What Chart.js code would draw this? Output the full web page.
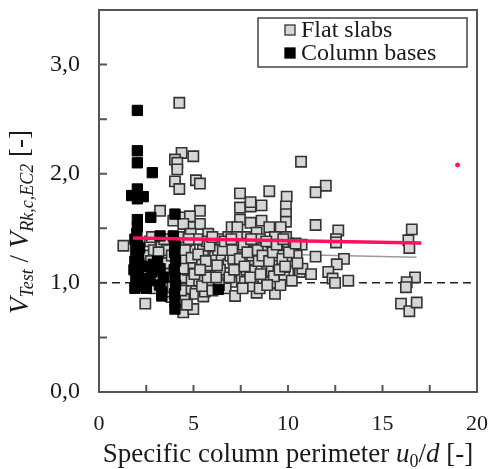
<!DOCTYPE html>
<html>
<head>
<meta charset="utf-8">
<script src="https://cdn.jsdelivr.net/npm/chart.js@4.4.1/dist/chart.umd.min.js"></script>
<style>
  html, body { margin: 0; padding: 0; background: #fff; }
  canvas { display: block; }
</style>
</head>
<body>
<canvas id="myChart" width="493" height="469"></canvas>
<script>
// data: [u0/d, VTest/VRk,c,EC2]
const flatSlabs = [
  [4.25,2.65],[4.37,2.19],[4.99,2.16],[4.02,2.13],[4.14,2.10],[4.14,2.04],[5.13,1.94],[5.34,1.91],
  [4.02,1.93],[4.25,1.86],[7.46,1.82],[9.01,1.84],[9.93,1.79],[9.89,1.70],[9.89,1.63],[9.89,1.56],
  [7.46,1.69],[8.02,1.70],[8.02,1.74],[8.6,1.71],[7.46,1.58],[8.02,1.55],[8.6,1.57],[5.34,1.66],
  [5.34,1.54],[5.78,1.45],[7.02,1.51],[7.32,1.51],[9.01,1.51],[9.61,1.51],[8.34,1.46],[3.23,1.66],
  [4.51,1.60],[4.81,1.61],[3.93,1.57],[4.81,1.51],[4.46,1.54],[10.69,2.11],[12.0,1.89],[11.46,1.83],
  [11.46,1.53],[12.66,1.48],[12.54,1.40],[16.55,1.49],
  [1.29,1.34],[2.45,0.81],[2.6,1.25],[2.7,1.38],[2.9,1.30],[3.0,1.20],[3.1,1.05],[3.3,1.35],
  [3.4,1.22],[3.5,1.10],[3.5,0.98],[3.6,1.30],[3.7,1.18],[3.76,0.88],[3.8,1.05],[3.0,0.95],[2.8,1.42],
  [3.84,0.87],[4.29,0.87],[4.46,0.73],[4.99,0.76],[4.5,0.85],[4.6,0.95],[4.4,1.05],[4.7,1.12],
  [4.5,1.22],[4.8,1.30],[4.6,1.38],[4.9,1.02],[5.0,1.18],[4.3,1.30],[4.2,1.42],[5.1,0.90],[4.85,1.45],
  [4.35,0.93],[5.52,0.875],[5.61,1.11],[5.43,1.20],[5.96,1.29],[6.14,1.24],[6.05,1.05],[5.5,1.30],
  [5.7,1.38],[5.3,1.02],[5.8,0.97],[5.9,1.16],[5.2,1.40],[6.14,1.37],[5.6,0.92],
  [6.46,1.40],[6.84,1.42],[6.84,1.32],[6.49,1.23],[6.84,1.17],[6.76,1.09],[6.3,1.30],[6.6,1.00],
  [6.95,1.25],[6.4,1.12],[7.02,1.01],[6.7,0.95],[7.2,0.88],[7.37,1.17],[7.55,1.27],[7.2,1.37],
  [7.72,1.42],[7.55,1.05],[7.72,1.01],[7.9,1.20],[7.4,1.33],[7.8,1.12],[7.6,0.95],[7.1,1.22],[7.95,1.36],
  [8.25,1.37],[8.25,1.29],[8.25,1.11],[8.52,1.40],[8.6,1.14],[8.78,1.23],[8.78,1.05],[8.34,1.01],
  [8.34,0.91],[8.96,1.32],[8.1,1.25],[8.45,1.20],[8.7,1.32],[8.9,1.10],[8.15,0.97],[8.5,0.95],
  [9.14,1.37],[9.14,1.11],[9.31,1.42],[9.31,1.00],[9.31,0.90],[9.49,1.17],[9.67,1.32],[9.93,1.29],
  [10.1,1.20],[10.55,1.10],[10.0,1.36],[9.5,1.25],[9.8,1.05],[10.3,1.30],[10.63,1.10],[10.76,1.13],
  [10.72,1.35],[10.46,1.25],[9.6,0.98],[9.9,1.42],[10.2,1.02],
  [2.55,1.08],[2.75,1.20],[2.95,1.12],[3.15,1.28],[3.25,1.02],[3.45,1.40],[3.55,1.18],[3.65,0.92],
  [3.85,1.25],[3.9,0.96],[4.45,1.13],[4.55,1.30],[4.75,1.40],[4.9,1.23],[4.65,0.80],[5.05,1.08],
  [5.25,1.26],[5.45,0.97],[5.65,1.20],[5.75,1.05],[5.85,1.34],[6.0,1.42],[6.25,1.16],[6.35,0.98],
  [6.55,1.30],[6.65,1.38],[6.9,1.05],[7.05,1.30],[7.15,1.12],[7.3,1.42],[7.45,1.22],[7.65,1.35],
  [7.7,1.15],[7.85,1.28],[8.0,1.05],[8.05,1.40],[8.4,1.30],[8.55,1.08],[8.65,1.25],[8.85,1.38],
  [9.0,1.20],[9.2,1.28],[9.25,1.06],[9.4,1.35],[9.55,1.12],[9.7,1.22],[9.85,1.15],[10.05,1.28],
  [10.4,1.36],[10.5,1.18],[7.0,1.40],[6.2,1.05],[5.35,1.12],[8.9,0.98],[9.75,1.40],[6.0,0.93],
  [11.46,1.24],[12.96,1.22],[12.58,1.17],[12.13,1.10],[12.36,1.04],[12.49,1.00],[13.19,1.02],
  [11.22,1.08],[12.54,1.37],
  [16.37,1.39],[16.42,1.32],[16.72,1.05],[16.28,1.006],[16.24,0.96],[15.98,0.81],[16.42,0.74],[16.81,0.82]
];
const columnBases = [
  [2.03,2.58],[2.03,2.21],[2.03,2.10],[2.82,2.01],[2.03,1.86],[1.73,1.80],[2.34,1.79],[2.03,1.77],
  [2.03,1.58],[2.03,1.51],[2.74,1.60],[4.02,1.63],[3.23,1.43],[3.93,1.43],
  [2.0,1.45],[1.9,1.40],[2.05,1.35],[1.95,1.30],[2.1,1.25],[1.9,1.20],[2.0,1.15],[2.1,1.10],
  [1.95,1.05],[2.05,1.00],[2.2,0.97],[1.85,1.12],[2.15,1.32],[1.9,0.95],[2.1,1.18],
  [2.43,1.04],[2.79,1.10],[2.87,1.17],[2.6,1.15],[2.5,0.95],[2.65,1.02],
  [3.23,1.13],[3.32,0.88],[3.32,0.91],[3.1,1.20],[3.4,1.05],[3.2,0.98],
  [4.02,1.36],[4.0,1.28],[4.05,1.20],[3.98,1.12],[4.02,1.05],[4.05,0.98],[4.0,0.90],[4.02,0.83],
  [4.02,0.76],[6.31,0.94]
];
const redTrend = [[1.8,1.41],[17.05,1.365]];
const greyTrend = [[2.0,1.29],[16.8,1.235]];
const unityLine = [[0,1.0],[20,1.0]];
const redDot = [[18.97,2.08]];

const xTicks = [0, 5, 10, 15, 20];
const yTicks = [0, 1, 2, 3];

const serif = "'Liberation Serif', 'Times New Roman', serif";
const pts = arr => arr.map(p => ({x: p[0], y: p[1]}));

// box, inward ticks, legend and axis titles
const framePlugin = {
    id: 'frame',
    afterDraw(chart) {
        const ctx = chart.ctx;
        const a = chart.chartArea;
        const sx = chart.scales.x, sy = chart.scales.y;
        ctx.save();
        ctx.strokeStyle = '#555';
        ctx.lineWidth = 2;
        ctx.strokeRect(a.left, a.top, a.right - a.left, a.bottom - a.top);
        ctx.beginPath();
        sx.ticks.forEach(t => {
            const px = sx.getPixelForValue(t.value);
            ctx.moveTo(px, a.bottom); ctx.lineTo(px, a.bottom - 7);
        });
        sy.ticks.forEach(t => {
            const py = sy.getPixelForValue(t.value);
            ctx.moveTo(a.left, py); ctx.lineTo(a.left + 8, py);
        });
        ctx.stroke();

        // legend
        ctx.lineWidth = 1.5;
        ctx.strokeStyle = '#444';
        ctx.strokeRect(258, 18, 209, 49);
        const items = [chart.data.datasets[2], chart.data.datasets[1]];
        items.forEach((ds, i) => {
            const cy = 30 + i * 23;
            ctx.fillStyle = ds.backgroundColor;
            ctx.fillRect(285, cy - 5, 10, 10);
            ctx.strokeStyle = ds.borderColor;
            ctx.lineWidth = 1.3;
            ctx.strokeRect(285, cy - 5, 10, 10);
            ctx.fillStyle = '#1a1a1a';
            ctx.font = '24px ' + serif;
            ctx.textBaseline = 'middle';
            ctx.fillText(ds.label, 301, cy + 1);
        });

        // axis titles
        ctx.fillStyle = '#1a1a1a';
        ctx.textBaseline = 'alphabetic';
        drawRich(ctx, [
            {t: 'Specific column perimeter ', f: 'normal', s: 27},
            {t: 'u', f: 'italic', s: 27},
            {t: '0', f: 'normal', s: 18, dy: 5},
            {t: '/', f: 'normal', s: 27},
            {t: 'd', f: 'italic', s: 27},
            {t: ' [-]', f: 'normal', s: 27}
        ], (a.left + a.right) / 2, 462, 0);
        drawRich(ctx, [
            {t: 'V', f: 'italic', s: 27},
            {t: 'Test', f: 'italic', s: 18, dy: 5},
            {t: ' / ', f: 'normal', s: 27},
            {t: 'V', f: 'italic', s: 27},
            {t: 'Rk,c,EC2', f: 'italic', s: 18, dy: 5},
            {t: ' [-]', f: 'normal', s: 27}
        ], 28, 222, -Math.PI / 2);
        ctx.restore();
    }
};

function drawRich(ctx, segs, cx, cy, rot) {
    let w = 0;
    segs.forEach(s => { ctx.font = s.f + ' ' + s.s + 'px ' + serif; s.w = ctx.measureText(s.t).width; w += s.w; });
    ctx.save();
    ctx.translate(cx, cy);
    ctx.rotate(rot);
    let x = -w / 2;
    segs.forEach(s => {
        ctx.font = s.f + ' ' + s.s + 'px ' + serif;
        ctx.fillText(s.t, x, s.dy || 0);
        x += s.w;
    });
    ctx.restore();
}

document.addEventListener("DOMContentLoaded", function() {
    const ctx = document.getElementById('myChart').getContext('2d');
    const myChart = new Chart(ctx, {
        type: 'scatter',
        data: {
            datasets: [{
                label: 'trend',
                data: pts(redTrend),
                showLine: true,
                borderColor: '#ff1060',
                borderWidth: 3.5,
                pointRadius: 0,
                order: 0
            }, {
                label: 'Column bases',
                data: pts(columnBases),
                pointStyle: 'rect',
                pointRadius: 7.3,
                backgroundColor: '#000000',
                borderColor: '#000000',
                borderWidth: 1,
                order: 1
            }, {
                label: 'Flat slabs',
                data: pts(flatSlabs),
                pointStyle: 'rect',
                pointRadius: 7.3,
                backgroundColor: '#d6d6d6',
                borderColor: '#333333',
                borderWidth: 1.6,
                order: 2
            }, {
                label: 'mean',
                data: pts(greyTrend),
                showLine: true,
                borderColor: '#9a9a9a',
                borderWidth: 1.5,
                pointRadius: 0,
                order: 3
            }, {
                label: 'unity',
                data: pts(unityLine),
                showLine: true,
                borderColor: '#222',
                borderWidth: 1.5,
                borderDash: [8, 5],
                pointRadius: 0,
                order: 4
            }, {
                label: 'dot',
                data: pts(redDot),
                pointRadius: 2,
                backgroundColor: '#ff1060',
                borderColor: '#ff1060',
                order: 0
            }]
        },
        options: {
            responsive: false,
            animation: false,
            devicePixelRatio: 1,
            layout: { padding: { top: 10, right: 16, left: 0, bottom: 0 } },
            scales: {
                x: {
                    type: 'linear', min: 0, max: 20,
                    grid: { display: false, drawTicks: false },
                    border: { display: false },
                    afterFit: s => { s.height = 77; s.paddingLeft = 0; s.paddingRight = 0; },
                    ticks: {
                        stepSize: 2.5, autoSkip: false, maxRotation: 0, padding: 19,
                        color: '#1a1a1a',
                        font: { family: serif, size: 22 },
                        callback: v => xTicks.includes(v) ? String(v) : ''
                    }
                },
                y: {
                    type: 'linear', min: 0, max: 3.5,
                    grid: { display: false, drawTicks: false },
                    border: { display: false },
                    afterFit: s => { s.width = 99; s.paddingTop = 0; s.paddingBottom = 0; },
                    ticks: {
                        stepSize: 0.5, autoSkip: false, padding: 19,
                        color: '#1a1a1a',
                        font: { family: serif, size: 24 },
                        callback: v => yTicks.includes(v) ? v.toFixed(1).replace('.', ',') : ''
                    }
                }
            },
            plugins: {
                legend: { display: false },
                tooltip: { enabled: false },
                title: { display: false }
            }
        },
        plugins: [framePlugin]
    });
});
</script>
</body>
</html>
